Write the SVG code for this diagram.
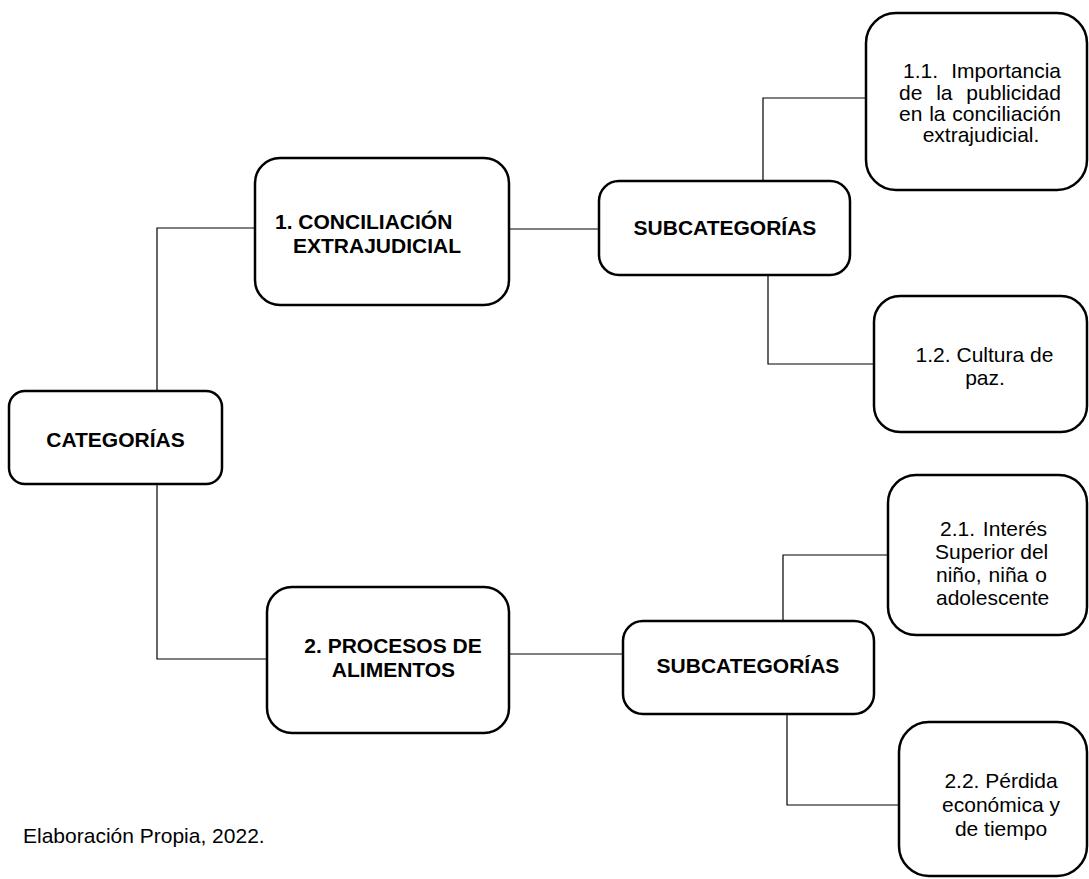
<svg xmlns="http://www.w3.org/2000/svg" width="1089" height="879" viewBox="0 0 1089 879">
<style>
.box{fill:#fff;stroke:#000;stroke-width:2.5}
.conn{fill:none;stroke:#000;stroke-width:1.2}
.b{font-family:"Liberation Sans",Arial,sans-serif;font-size:21px;font-weight:bold;fill:#000}
.t{font-family:"Liberation Sans",Arial,sans-serif;font-size:21px;fill:#000}
.m{text-anchor:middle}
</style>
<rect width="1089" height="879" fill="#fff"/>
<g id="connectors">
<path class="conn" d="M255,228 H157 V391"/>
<path class="conn" d="M157,484 V659 H267"/>
<path class="conn" d="M509,229 H599"/>
<path class="conn" d="M763,181 V98 H866"/>
<path class="conn" d="M768,275 V364 H874"/>
<path class="conn" d="M509,654 H623"/>
<path class="conn" d="M783,621 V555 H888"/>
<path class="conn" d="M787,714 V805 H899"/>
</g>
<g id="categorias">
<rect class="box" x="9" y="391" width="213" height="93" rx="16"/>
<text class="b m" x="115.5" y="447">CATEGORÍAS</text>
</g>
<g id="conciliacion">
<rect class="box" x="255" y="158" width="254" height="147" rx="25"/>
<text class="b" x="275" y="229">1. CONCILIACIÓN</text>
<text class="b" x="293" y="253">EXTRAJUDICIAL</text>
</g>
<g id="subcategorias1">
<rect class="box" x="599" y="181" width="251" height="94" rx="20"/>
<text class="b m" x="725" y="235">SUBCATEGORÍAS</text>
</g>
<g id="sub11">
<rect class="box" x="866" y="13" width="221" height="177" rx="30"/>
<text class="t" x="903" y="78" word-spacing="7.4">1.1. Importancia</text>
<text class="t" x="899" y="99.5" word-spacing="8">de la publicidad</text>
<text class="t" x="899" y="121" word-spacing="1">en la conciliación</text>
<text class="t m" x="981" y="142">extrajudicial.</text>
</g>
<g id="sub12">
<rect class="box" x="874" y="296" width="213" height="136" rx="26"/>
<text class="t m" x="984.5" y="362">1.2. Cultura de</text>
<text class="t m" x="985" y="385">paz.</text>
</g>
<g id="procesos">
<rect class="box" x="267" y="587" width="242" height="146" rx="25"/>
<text class="b m" x="393" y="653">2. PROCESOS DE</text>
<text class="b m" x="393.5" y="677">ALIMENTOS</text>
</g>
<g id="subcategorias2">
<rect class="box" x="623" y="621" width="251" height="93" rx="20"/>
<text class="b m" x="748" y="673">SUBCATEGORÍAS</text>
</g>
<g id="sub21">
<rect class="box" x="888" y="475" width="199" height="160" rx="28"/>
<text class="t" x="940" y="536" word-spacing="2">2.1. Interés</text>
<text class="t" x="935" y="559">Superior del</text>
<text class="t" x="936" y="582" word-spacing="1.2">niño, niña o</text>
<text class="t" x="936" y="605">adolescente</text>
</g>
<g id="sub22">
<rect class="box" x="899" y="722" width="188" height="154" rx="30"/>
<text class="t m" x="1001" y="788">2.2. Pérdida</text>
<text class="t m" x="1001" y="812">económica y</text>
<text class="t m" x="1001" y="836">de tiempo</text>
</g>
<g id="source">
<text class="t" x="23" y="843">Elaboración Propia, 2022.</text>
</g>
</svg>
